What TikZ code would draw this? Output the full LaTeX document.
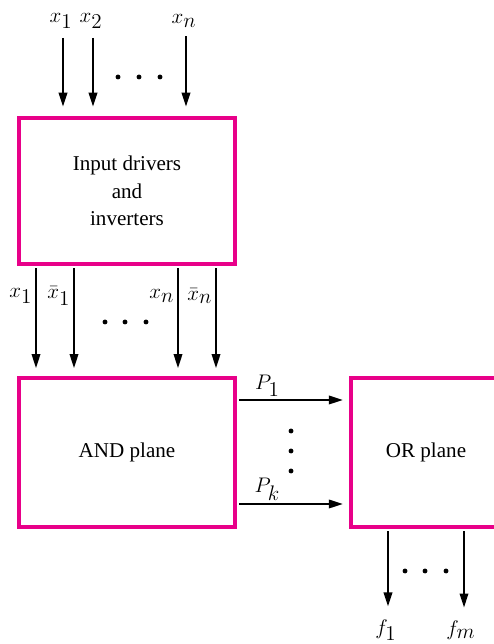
\documentclass[tikz,border=0pt]{standalone}
\usepackage{fontspec}
\setmainfont{Liberation Serif}
\usepackage{amsmath}
\definecolor{plamagenta}{RGB}{232,0,137}
\usetikzlibrary{arrows.meta,positioning}

\begin{document}
\begin{tikzpicture}[
    plane/.style={draw=plamagenta,line width=2.8pt,align=center,
                  font=\fontsize{12}{15.6}\selectfont},
    arr/.style={line width=1.2pt,-{Triangle[length=8pt,width=4.8pt]}},
    sig/.style={inner sep=0.5pt,font=\fontsize{12}{14}\selectfont},
    dotmark/.style={circle,fill,inner sep=0pt,minimum size=2.8pt}]
  \clip (0,0) rectangle (9.88,12.88);
  %% Planes
  \node[plane,minimum width=4.32cm,minimum height=2.92cm]
        (inp) at (2.54,9.06) {Input drivers\\and\\inverters};
  \node[plane,minimum width=4.32cm,minimum height=2.98cm]
        (andp) at (2.54,3.83) {AND plane};
  \node[plane,minimum width=3.0cm,minimum height=2.98cm]
        (orp) at (8.52,3.83) {OR plane};
  %% Inputs
  \node[sig] (x1) at (1.22,12.46) {$x_{\textstyle 1}$};
  \node[sig] (x2) at (1.82,12.46) {$x_{\textstyle 2}$};
  \node[sig] (xn) at (3.68,12.46) {$x_{\textstyle n}$};
  \draw[arr,shorten <=4.5pt,shorten >=5pt] (x1.south -| 1.26,0) -- (inp.north -| 1.26,0);
  \draw[arr,shorten <=4.5pt,shorten >=5pt] (x2.south -| 1.86,0) -- (inp.north -| 1.86,0);
  \draw[arr,shorten <=4.5pt,shorten >=5pt] (xn.south -| 3.72,0) -- (inp.north -| 3.72,0);
  \node[dotmark] (d1) at (2.36,11.34) {};
  \node[dotmark] (d2) at (2.78,11.34) {};
  \node[dotmark] (d3) at (3.20,11.34) {};
  %% True and complemented inputs
  \coordinate (t1) at (0.72,0);
  \coordinate (c1) at (1.48,0);
  \coordinate (tn) at (3.56,0);
  \coordinate (cn) at (4.32,0);
  \draw[arr,shorten <=1pt,shorten >=4.2pt] (inp.south -| t1) --
        node[sig,left=1pt,pos=0.27] {$x_{\textstyle 1}$} (andp.north -| t1);
  \draw[arr,shorten <=1pt,shorten >=4.2pt] (inp.south -| c1) --
        node[sig,left=1pt,pos=0.27] {$\bar{x}_{\textstyle 1}$} (andp.north -| c1);
  \draw[arr,shorten <=1pt,shorten >=4.2pt] (inp.south -| tn) --
        node[sig,left=1pt,pos=0.27] {$x_{\textstyle n}$} (andp.north -| tn);
  \draw[arr,shorten <=1pt,shorten >=4.2pt] (inp.south -| cn) --
        node[sig,left=1pt,pos=0.27] {$\bar{x}_{\textstyle n}$} (andp.north -| cn);
  \node[dotmark] (d4) at (2.10,6.44) {};
  \node[dotmark] (d5) at (2.50,6.44) {};
  \node[dotmark] (d6) at (2.92,6.44) {};
  %% Product terms
  \coordinate (p1) at (0,4.88);
  \coordinate (pk) at (0,2.80);
  \draw[arr,shorten <=1pt,shorten >=3.2pt] (andp.east |- p1) --
        node[sig,above=1pt,pos=0.27] {$P_{\textstyle 1}$} (orp.west |- p1);
  \draw[arr,shorten <=1pt,shorten >=3.2pt] (andp.east |- pk) --
        node[sig,above=1pt,pos=0.27] {$P_{\textstyle k}$} (orp.west |- pk);
  \node[dotmark] (d7) at (5.82,4.26) {};
  \node[dotmark] (d8) at (5.82,3.86) {};
  \node[dotmark] (d9) at (5.82,3.46) {};
  %% Outputs
  \node[sig] (f1) at (7.72,0.27) {$f_{\textstyle 1}$};
  \node[sig] (fm) at (9.22,0.27) {$f_{\textstyle m}$};
  \draw[arr,shorten <=1pt,shorten >=7pt] (orp.south -| 7.76,0) -- (f1.north -| 7.76,0);
  \draw[arr,shorten <=1pt,shorten >=7pt] (orp.south -| 9.28,0) -- (fm.north -| 9.28,0);
  \node[dotmark] (d10) at (8.10,1.46) {};
  \node[dotmark] (d11) at (8.50,1.46) {};
  \node[dotmark] (d12) at (8.92,1.46) {};
\end{tikzpicture}
\end{document}
